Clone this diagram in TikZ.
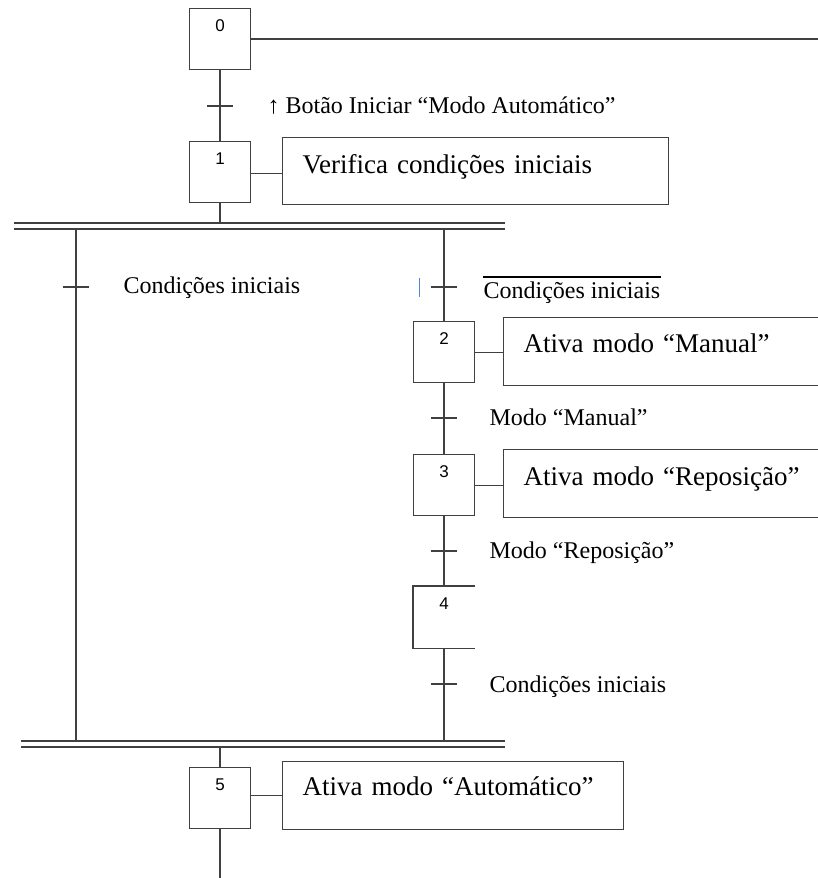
\documentclass[tikz,border=0pt]{standalone}
\usepackage{fontspec}
\setmainfont{Liberation Serif}
\newfontfamily\numfont{Liberation Sans}
\usetikzlibrary{positioning,calc}
\definecolor{cursorblue}{RGB}{70,140,215}
\tikzset{every picture/.style={line width=1.3pt,black!75}}
\tikzset{step box/.style={draw,minimum width=61pt,inner sep=0pt,text height=23pt,text depth=38pt,
  font=\numfont\fontsize{17}{17}\selectfont,text=black}}
\tikzset{action box/.style={draw,anchor=north west,inner xsep=20pt,inner ysep=0pt,align=left,
  font=\fontsize{27}{30}\selectfont,text=black}}
\tikzset{cond label/.style={anchor=base west,inner sep=0pt,font=\fontsize{24}{26}\selectfont,text=black}}
\tikzset{double bar/.style={line width=1.3pt}}

\begin{document}
\begin{tikzpicture}[x=1pt,y=-1pt]
      \path[use as bounding box,clip] (0,0) rectangle (818,878);
      % steps of the main column
      \node[step box] (e0) at (220,39) {0};
      \node[step box] (e1) at (220,172) {1};
      \node[step box] (e5) at (220,798) {5};
      % steps of the right branch
      \node[step box] (e2) at (444,352) {2};
      \node[step box] (e3) at (444,485) {3};
      \node[step box,draw=none] (e4) at (444,617) {4};
      \draw (e4.north east) -- (e4.north west) -- (e4.south west) -- (e4.south east);
      % actions
      \node[action box,text width=346pt,text height=36pt,text depth=31pt] (a1) at (282,137) {Verifica condições iniciais};
      \node[action box,text width=330pt,text height=35pt,text depth=33pt] (a2) at (503,317) {Ativa modo “Manual”};
      \node[action box,text width=330pt,text height=36pt,text depth=32pt] (a3) at (503,449) {Ativa modo “Reposição”};
      \node[action box,text width=301pt,text height=34pt,text depth=34pt] (a5) at (282,761) {Ativa modo “Automático”};
      \draw (e1.east |- a1.base) -- (a1.west |- a1.base);
      \draw (e2.east |- a2.base) -- (a2.west |- a2.base);
      \draw (e3.east |- a3.base) -- (a3.west |- a3.base);
      \draw (e5.east |- a5.base) -- (a5.west |- a5.base);
      % return line
      \coordinate (r0) at (818,39);
      \draw (e0.east) -- (r0);
      % simultaneous divergence / convergence
      \coordinate (dl) at (14,223);
      \coordinate (dr) at (505,223);
      \coordinate (cl) at (21,741);
      \coordinate (cr) at (505,741);
      \draw[double bar] (dl) -- (dr) ($(dl)+(0,6)$) -- ($(dr)+(0,6)$);
      \draw[double bar] (cl) -- (cr) ($(cl)+(0,6)$) -- ($(cr)+(0,6)$);
      \coordinate (b1) at (76,229);
      \coordinate (b1e) at (76,741);
      \coordinate (b2) at (444,229);
      \coordinate (b2e) at (444,741);
      \draw (e0) -- (e1);
      \draw (e1.south) -- (e1.south |- dl);
      \draw (b1) -- (b1e);
      \draw (b2) -- (e2);
      \draw (e2) -- (e3);
      \draw (e3) -- (e4);
      \draw (e4.south) -- (b2e);
      \draw (e5.north |- cr) ++(0,6) -- (e5.north);
      \draw (e5.south) -- (220,878);
      % transitions
      \foreach \name/\x/\y in {t0/220/106,t1/76/287,t2/444/287,t3/444/418,t4/444/551,t5/444/684}{
        \coordinate (\name) at (\x,\y);
        \draw ([xshift=-13pt]\name) -- ([xshift=13pt]\name);
      }
      \node[cond label] (c0) at (267,113) {↑ Botão Iniciar “Modo Automático”};
      \node[cond label] (c1) at (123,293) {Condições iniciais};
      \node[cond label] (c2) at (483,298) {Condições iniciais};
      \draw[black] (c2.west |- 0,277) -- (c2.east |- 0,277);
      \node[cond label] (c3) at (489,425) {Modo “Manual”};
      \node[cond label] (c4) at (489,558) {Modo “Reposição”};
      \node[cond label] (c5) at (489,692) {Condições iniciais};
      \draw[cursorblue,line width=0.9pt] (419,278) -- (419,297);
    \end{tikzpicture}
\end{document}
